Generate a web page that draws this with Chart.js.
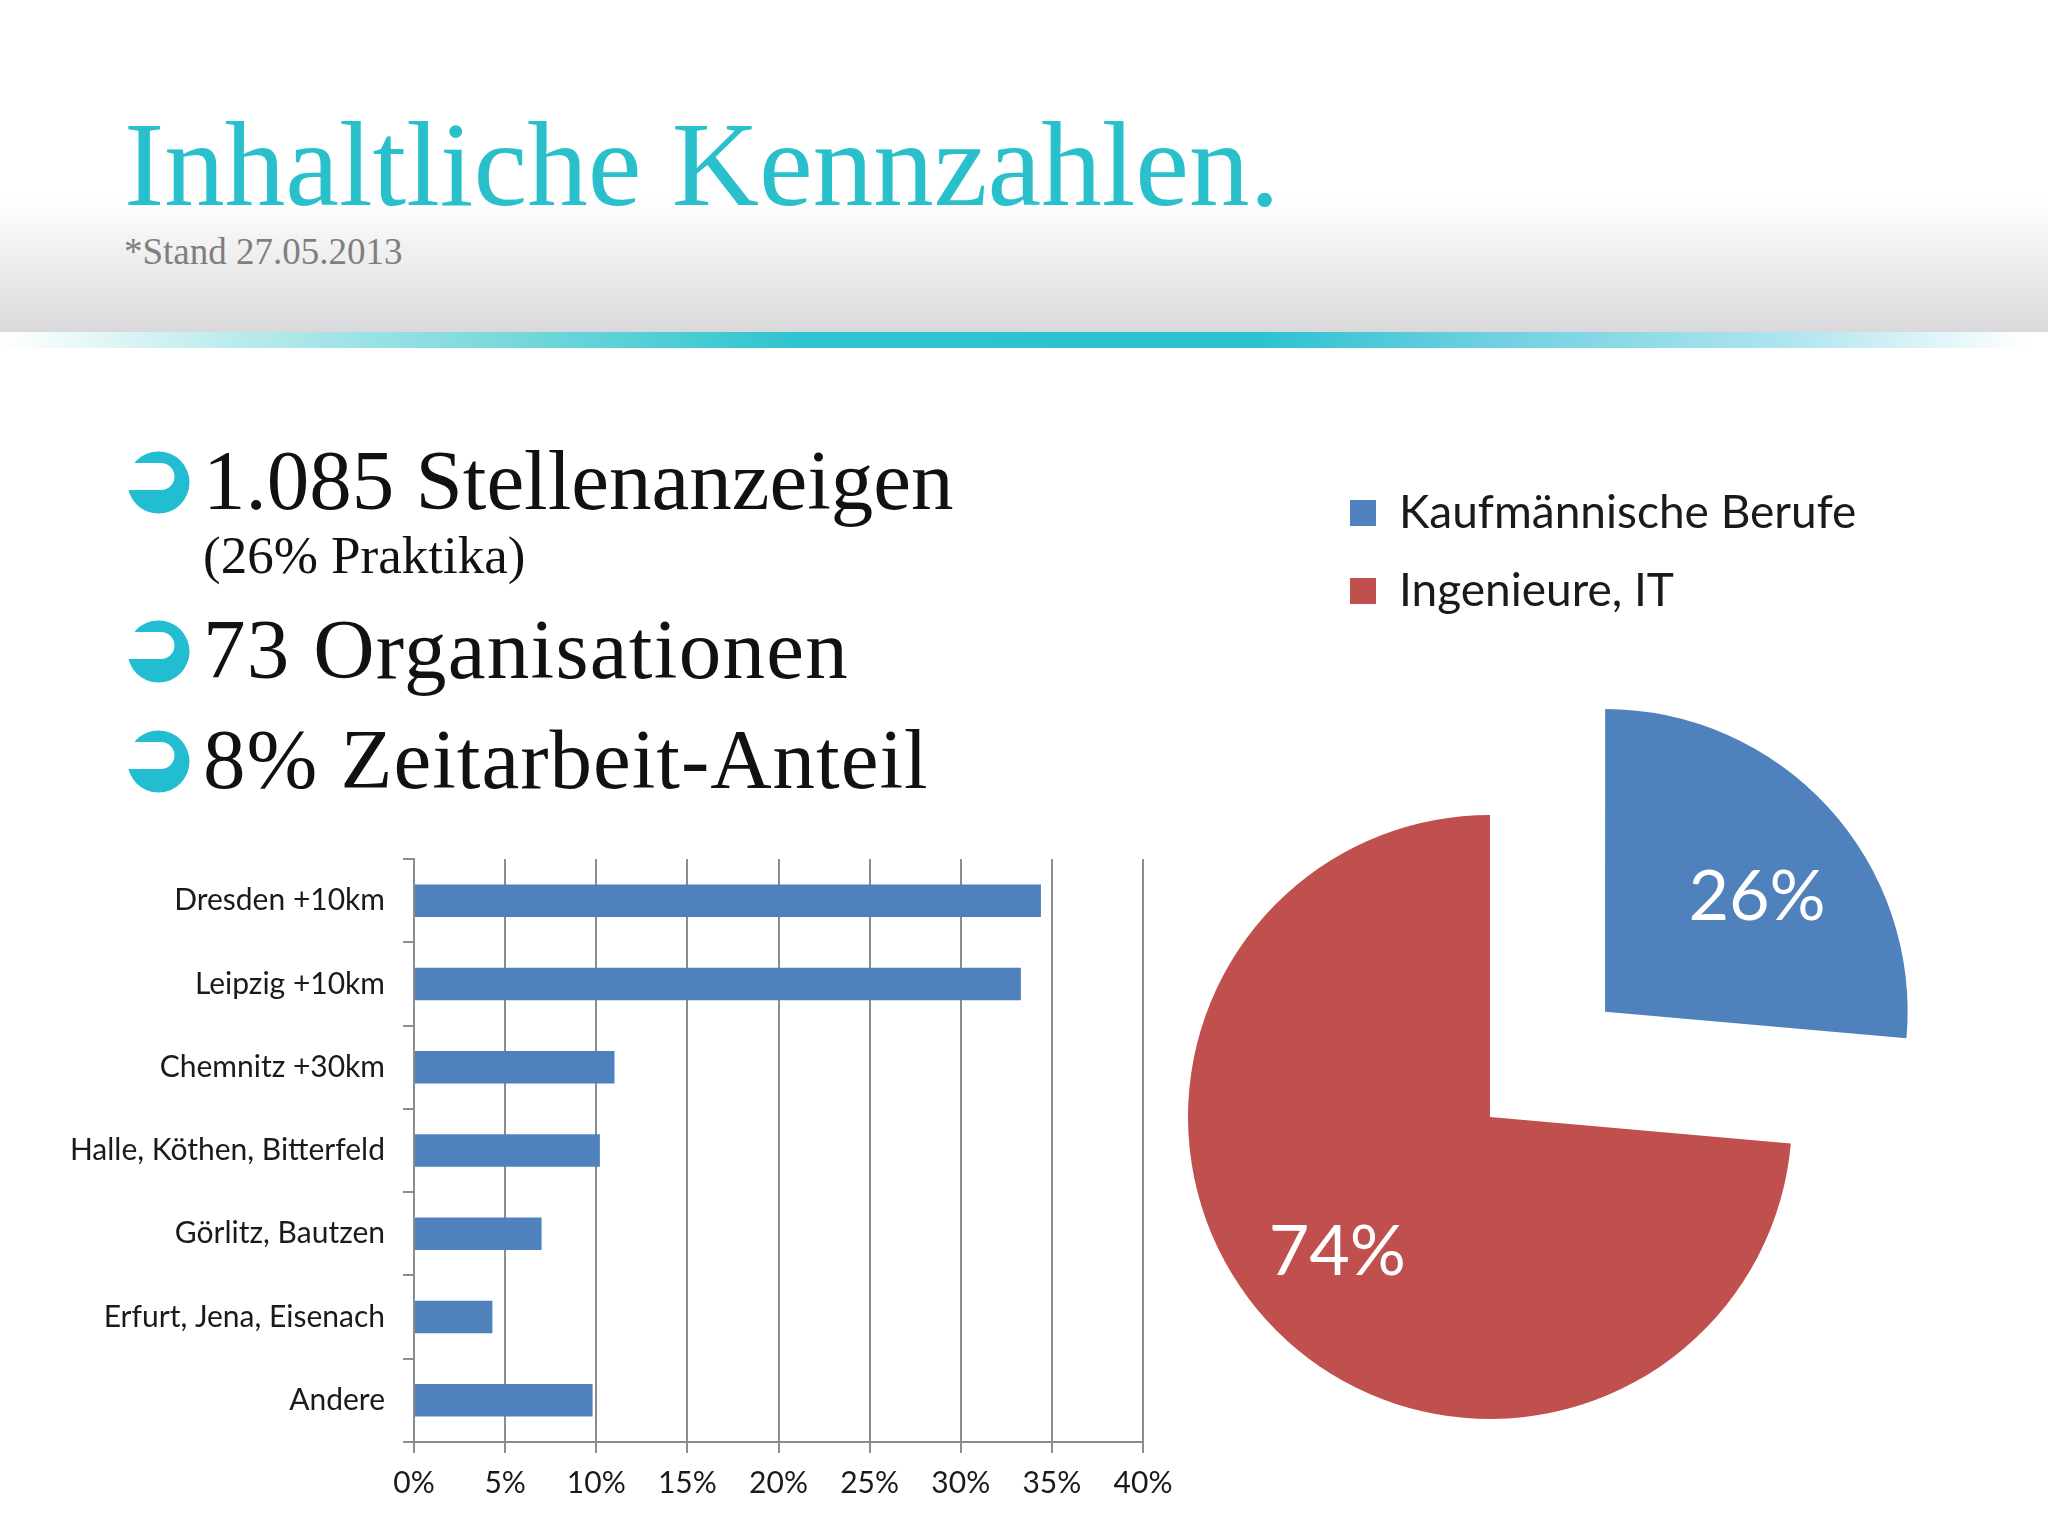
<!DOCTYPE html>
<html lang="de">
<head>
<meta charset="utf-8">
<title>Inhaltliche Kennzahlen</title>
<script src="https://cdn.jsdelivr.net/npm/chart.js@4.4.0/dist/chart.umd.min.js"></script>
<style>
  html, body { margin: 0; padding: 0; }
  body { width: 2048px; height: 1536px; overflow: hidden; background: #fff; position: relative; font-family: 'Liberation Serif', serif; }
  .head { position: absolute; left: 0; top: 0; width: 2048px; height: 332px;
    background: linear-gradient(to bottom, #fff 0px, #fff 195px, #e8e7e9 285px, #d9d9db 332px); }
  .band { position: absolute; left: 0; top: 332px; width: 2048px; height: 16px;
    background: linear-gradient(to right, #ffffff 0px, #bfeced 220px, #7fdadd 480px, #2dc4cf 800px, #2cc2d1 1260px, #6ccfe0 1480px, #b2e6ef 1800px, #ffffff 2030px); }
  .title { position: absolute; left: 124px; top: 104px; font-size: 121px; line-height: 1; color: #29c0cc; white-space: nowrap; }
  .sub { position: absolute; left: 124px; top: 233px; font-size: 37px; line-height: 1; color: #7f7f7f; white-space: nowrap; }
  .line { position: absolute; left: 203px; font-size: 85px; line-height: 1; color: #111; white-space: nowrap; }
  .small { position: absolute; left: 203px; font-size: 53px; line-height: 1; color: #111; white-space: nowrap; }
  .bullet { position: absolute; left: 127px; width: 63px; height: 63px; }
  #bars { position: absolute; left: 0; top: 820px; }
  #pie { position: absolute; left: 1150px; top: 440px; }
</style>
</head>
<body>
<div class="head"></div>
<div class="band"></div>
<div class="title">Inhaltliche Kennzahlen.</div>
<div class="sub">*Stand 27.05.2013</div>

<svg class="bullet" style="top:451px" viewBox="0 0 63 63"><use href="#crescent"/></svg>
<svg class="bullet" style="top:620px" viewBox="0 0 63 63"><use href="#crescent"/></svg>
<svg class="bullet" style="top:730px" viewBox="0 0 63 63"><use href="#crescent"/></svg>
<svg width="0" height="0" style="position:absolute">
  <defs>
    <mask id="cut">
      <rect x="0" y="0" width="63" height="63" fill="#fff"/>
      <path d="M -5 12 H 34 A 13.5 13.5 0 0 1 34 39 H -5 Z" fill="#000"/>
    </mask>
    <g id="crescent"><circle cx="31.5" cy="31.5" r="31" fill="#22bdd0" mask="url(#cut)"/></g>
  </defs>
</svg>

<div class="line" style="top:438px">1.085 Stellenanzeigen</div>
<div class="small" style="top:529px">(26% Praktika)</div>
<div class="line" style="top:607px; letter-spacing:1.3px">73 Organisationen</div>
<div class="line" style="top:717px; letter-spacing:1px">8% Zeitarbeit-Anteil</div>

<canvas id="bars" width="1200" height="716"></canvas>
<canvas id="pie" width="898" height="1180"></canvas>

<script>
// Regionen (Balken, Anteil in %)
const regionen = ['Dresden +10km', 'Leipzig +10km', 'Chemnitz +30km', 'Halle, Köthen, Bitterfeld', 'Görlitz, Bautzen', 'Erfurt, Jena, Eisenach', 'Andere'];
const regionAnteile = [34.4, 33.3, 11.0, 10.2, 7.0, 4.3, 9.8];
const achsenTicks = [0, 5, 10, 15, 20, 25, 30, 35, 40];

// Berufsgruppen (Torte)
const berufe = ['Kaufmännische Berufe', 'Ingenieure, IT'];
const berufAnteile = [26.4, 73.6];

const blau = '#4f81bd';
const rot = '#c0504d';
const grau = '#8c8c8c';
const explodePx = 156; // blaues Segment herausgezogen

Chart.defaults.font.family = 'Lato';
Chart.defaults.color = '#1a1a1a';
Chart.defaults.animation = false;

function drawCharts() {
  new Chart(document.getElementById('bars'), {
    type: 'bar',
    data: {
      labels: regionen,
      datasets: [{
        data: regionAnteile,
        backgroundColor: blau,
        borderWidth: 0,
        categoryPercentage: 1,
        barPercentage: 0.39
      }]
    },
    options: {
      indexAxis: 'y',
      responsive: false,
      layout: { padding: { top: 39, right: 57, bottom: 0, left: 0 } },
      plugins: { legend: { display: false }, tooltip: { enabled: false } },
      scales: {
        x: {
          min: 0,
          max: 40,
          afterBuildTicks: s => { s.ticks = achsenTicks.map(v => ({ value: v })); },
          afterFit: s => { s.height = 94; },
          ticks: { callback: v => v + '%', font: { size: 30 }, padding: 12, color: '#1a1a1a' },
          grid: { color: grau, lineWidth: 2, tickLength: 11 },
          border: { color: grau, width: 2 }
        },
        y: {
          afterFit: s => { s.width = 414; },
          ticks: { font: { size: 30 }, padding: 18, color: '#1a1a1a' },
          grid: { drawOnChartArea: false, color: grau, lineWidth: 2, tickLength: 11 },
          border: { color: grau, width: 2 }
        }
      }
    }
  });

  // Prozentwerte in die Segmente schreiben (wie Excel "beste Anpassung")
  const labelRadius = [0.63, 0.675];
  const labelDrehung = [5.5, 1];
  const pieLabels = {
    id: 'pieLabels',
    afterDatasetsDraw(chart) {
      const ctx = chart.ctx;
      const meta = chart.getDatasetMeta(0);
      ctx.save();
      ctx.fillStyle = '#fff';
      ctx.font = '70px Lato';
      ctx.textAlign = 'center';
      ctx.textBaseline = 'middle';
      meta.data.forEach((arc, i) => {
        const p = arc.getProps(['x', 'y', 'startAngle', 'endAngle', 'outerRadius'], true);
        const mid = (p.startAngle + p.endAngle) / 2;
        const off = i === 0 ? explodePx : 0;
        const ox = p.x + Math.cos(mid) * off;
        const oy = p.y + Math.sin(mid) * off;
        const a = mid + labelDrehung[i] * Math.PI / 180;
        const r = p.outerRadius * labelRadius[i];
        ctx.fillText(Math.round(berufAnteile[i]) + '%', ox + Math.cos(a) * r, oy + Math.sin(a) * r);
      });
      ctx.restore();
    }
  };

  // Legende oben rechts, unabhaengig von der Tortenmitte
  const legendShift = {
    id: 'legendShift',
    afterLayout(chart) {
      const lg = chart.legend;
      lg.left = 1350 - 32 - 1150;
      lg.right = chart.width;
      lg.width = lg.right - lg.left;
    }
  };

  new Chart(document.getElementById('pie'), {
    type: 'pie',
    data: {
      labels: berufe,
      datasets: [{
        data: berufAnteile,
        backgroundColor: [blau, rot],
        borderWidth: 0,
        offset: [explodePx * 4, 0]
      }]
    },
    options: {
      responsive: false,
      radius: 302,
      cutout: '0%',
      layout: { padding: { top: 18, right: 218, bottom: 10, left: 0 } },
      plugins: {
        tooltip: { enabled: false },
        legend: {
          position: 'top',
          align: 'start',
          labels: { boxWidth: 26, boxHeight: 26, padding: 32, font: { size: 46 }, color: '#1a1a1a' }
        }
      }
    },
    plugins: [legendShift, pieLabels]
  });
}

if (document.fonts && document.fonts.load) {
  Promise.all([document.fonts.load('28px Lato'), document.fonts.load('85px "Liberation Serif"')])
    .then(drawCharts, drawCharts);
} else {
  drawCharts();
}
</script>
</body>
</html>
